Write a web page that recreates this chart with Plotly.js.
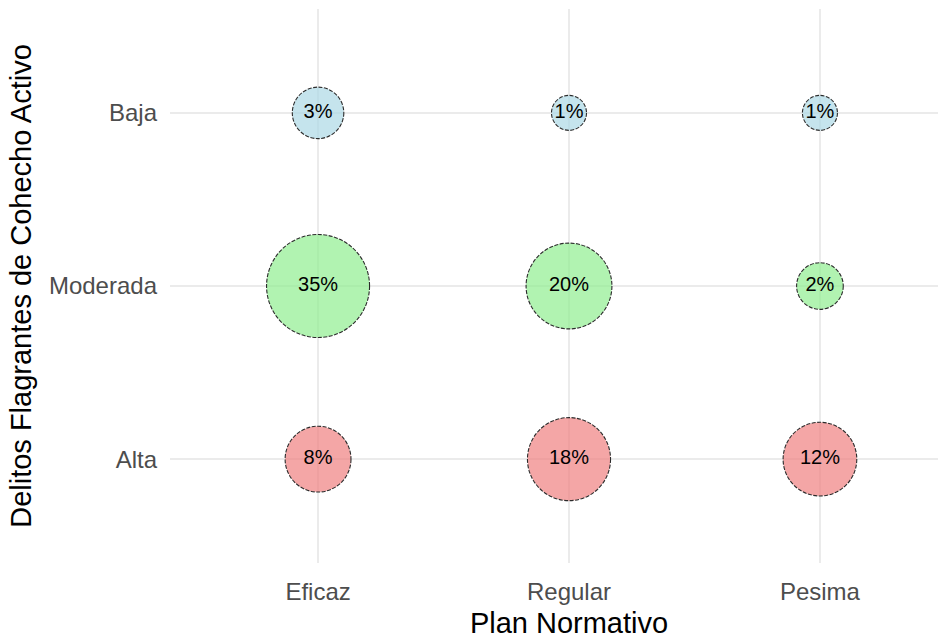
<!DOCTYPE html>
<html>
<head>
<meta charset="utf-8">
<script src="https://cdn.plot.ly/plotly-3.0.1.min.js"></script>
<style>
  html, body { margin: 0; padding: 0; background: #fff; overflow: hidden; }
  #chart { width: 968px; height: 639px; }
</style>
</head>
<body>
<div id="chart"></div>
<script>
// Plan Normativo (x) vs Delitos Flagrantes de Cohecho Activo (y)
var planes = ['Eficaz', 'Regular', 'Pesima'];
var niveles = ['Alta', 'Moderada', 'Baja'];

// porcentajes por nivel, en el orden de planes
var alta = [8, 18, 12];
var moderada = [35, 20, 2];
var baja = [3, 1, 1];

var fills = {
  Alta: 'rgba(240,128,128,0.7)',
  Moderada: 'rgba(144,238,144,0.7)',
  Baja: 'rgba(173,216,230,0.7)'
};

var series = { Alta: alta, Moderada: moderada, Baja: baja };

// size scale like ggplot's scale_size (area based, min..max diameter in px)
var all = alta.concat(moderada, baja);
var vmin = Math.min.apply(null, all), vmax = Math.max.apply(null, all);
var dmin = 35, dmax = 103;
function diam(v) {
  return dmin + Math.sqrt((v - vmin) / (vmax - vmin)) * (dmax - dmin);
}

var data = [];
var shapes = [];
niveles.forEach(function (lvl) {
  var vals = series[lvl];
  data.push({
    type: 'scatter',
    mode: 'markers+text',
    x: planes,
    y: planes.map(function () { return lvl; }),
    text: vals.map(function (v) { return v + '%'; }),
    textposition: 'middle center',
    textfont: { family: 'Liberation Sans, Arial, sans-serif', size: 20, color: '#000' },
    marker: {
      size: vals.map(diam),
      color: fills[lvl],
      opacity: 1,  // bubbles default to 0.7 otherwise
      line: { width: 0 }
    },
    hoverinfo: 'x+y+text',
    showlegend: false,
    cliponaxis: false
  });
  // dashed outline around each bubble
  vals.forEach(function (v, i) {
    var r = diam(v) / 2;
    shapes.push({
      type: 'circle',
      xref: 'x', yref: 'y',
      xsizemode: 'pixel', ysizemode: 'pixel',
      xanchor: i, yanchor: niveles.indexOf(lvl),
      x0: -r, x1: r, y0: -r, y1: r,
      line: { color: '#2b2b2b', width: 1.1, dash: '4px,1.5px' },
      fillcolor: 'rgba(0,0,0,0)',
      layer: 'above'
    });
  });
});

// the panel runs past the right edge of the 938px window, as in the original
var layout = {
  width: 968,
  height: 639,
  margin: { l: 170, r: 0, t: 9, b: 76 },
  paper_bgcolor: '#fff',
  plot_bgcolor: '#fff',
  font: { family: 'Liberation Sans, Arial, sans-serif' },
  showlegend: false,
  shapes: shapes,
  xaxis: {
    type: 'category',
    categoryorder: 'array',
    categoryarray: planes,
    range: [-0.59, 2.59],
    showgrid: true,
    gridcolor: '#EBEBEB',
    gridwidth: 1.3,
    zeroline: false,
    showline: false,
    ticks: '',
    ticklabelstandoff: 12,
    tickfont: { size: 24, color: '#4D4D4D' },
    title: { text: 'Plan Normativo', font: { size: 29, color: '#000' }, standoff: 8 }
  },
  yaxis: {
    type: 'category',
    categoryorder: 'array',
    categoryarray: niveles,
    range: [-0.6, 2.6],
    showgrid: true,
    gridcolor: '#EBEBEB',
    gridwidth: 1.3,
    zeroline: false,
    showline: false,
    ticks: '',
    ticklabelstandoff: 12,
    tickfont: { size: 24, color: '#4D4D4D' },
    title: { text: 'Delitos Flagrantes de Cohecho Activo', font: { size: 29, color: '#000' }, standoff: 8 }
  }
};

Plotly.newPlot('chart', data, layout, { displayModeBar: false, staticPlot: true });
</script>
</body>
</html>
